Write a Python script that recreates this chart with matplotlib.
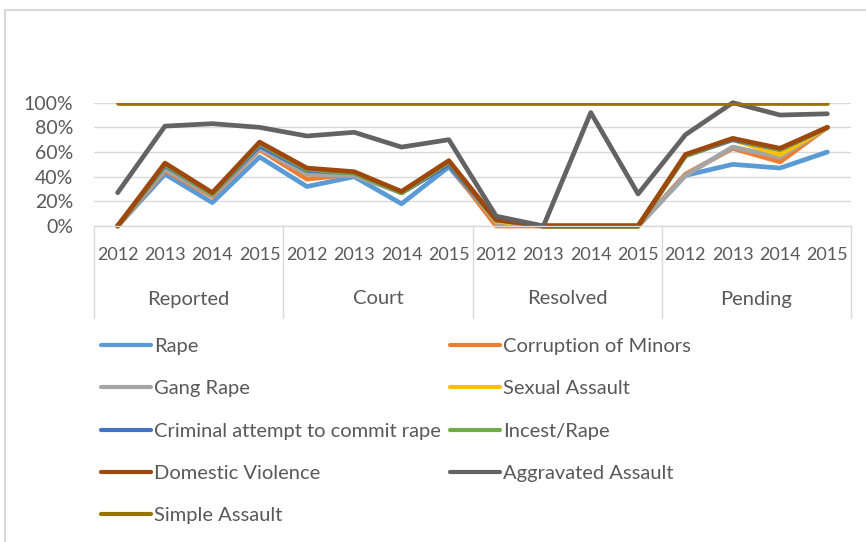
import matplotlib
matplotlib.use("Agg")
import matplotlib.pyplot as plt
from matplotlib.transforms import blended_transform_factory
from matplotlib.lines import Line2D

plt.rcParams['font.family'] = ['Lato', 'DejaVu Sans']

groups = ["Reported", "Court", "Resolved", "Pending"]
years = ["2012", "2013", "2014", "2015"]

series_names = ["Rape", "Corruption of Minors", "Gang Rape", "Sexual Assault",
                "Criminal attempt to commit rape", "Incest/Rape",
                "Domestic Violence", "Aggravated Assault", "Simple Assault"]
colors = ["#5B9BD5", "#ED7D31", "#A5A5A5", "#FFC000", "#4472C4", "#70AD47",
          "#9E480E", "#636363", "#997300"]

rape        = [0, 0.42, 0.19, 0.56, 0.32, 0.40, 0.18, 0.48, 0.03, 0, 0, 0, 0.41, 0.50, 0.47, 0.60]
corruption  = [0, 0.45, 0.24, 0.62, 0.38, 0.42, 0.27, 0.50, 0.00, 0, 0, 0, 0.42, 0.63, 0.52, 0.80]
gang_rape   = [0, 0.46, 0.25, 0.63, 0.42, 0.41, 0.27, 0.50, 0.03, 0, 0, 0, 0.41, 0.64, 0.56, 0.80]
sexual      = [0, 0.49, 0.26, 0.66, 0.45, 0.43, 0.27, 0.51, 0.04, 0, 0, 0, 0.57, 0.70, 0.58, 0.80]
criminal    = [0, 0.49, 0.26, 0.65, 0.45, 0.43, 0.27, 0.50, 0.05, 0, 0, 0, 0.57, 0.70, 0.62, 0.80]
incest      = [0, 0.50, 0.26, 0.67, 0.46, 0.43, 0.27, 0.52, 0.05, 0, 0, 0, 0.57, 0.71, 0.62, 0.80]
domestic    = [0, 0.51, 0.27, 0.68, 0.47, 0.44, 0.28, 0.53, 0.05, 0, 0, 0, 0.58, 0.71, 0.63, 0.80]
aggravated  = [0.27, 0.81, 0.83, 0.80, 0.73, 0.76, 0.64, 0.70, 0.08, 0, 0.92, 0.26, 0.74, 1.00, 0.90, 0.91]
simple      = [1.0] * 16

data = [rape, corruption, gang_rape, sexual, criminal, incest, domestic, aggravated, simple]

W, H = 866, 542
fig = plt.figure(figsize=(W / 100, H / 100), dpi=100)
fig.patch.set_facecolor("white")

# chart border (top and left visible)
fig.add_artist(Line2D([5 / W, 1.0], [1 - 10 / H, 1 - 10 / H], color="#D9D9D9", lw=1.5))
fig.add_artist(Line2D([5 / W, 5 / W], [0, 1 - 10 / H], color="#D9D9D9", lw=1.5))

left, right = 94 / W, 851 / W
bottom, top = 1 - 226 / H, 1 - 102.7 / H
ax = fig.add_axes([left, bottom, right - left, top - bottom])

n = len(groups) * len(years)
x = list(range(n))
handles = []
for name, col, vals in zip(series_names, colors, data):
    is_top = all(v >= 1.0 for v in vals)
    h, = ax.plot(x, vals, color=col, lw=3.4, label=name, clip_on=is_top,
                 solid_joinstyle="round", solid_capstyle="round")
    handles.append(h)

ax.set_xlim(-0.5, n - 0.5)
ax.set_ylim(0, 1)
ax.set_yticks([0, 0.2, 0.4, 0.6, 0.8, 1.0])
ax.set_yticklabels(["0%", "20%", "40%", "60%", "80%", "100%"])
ax.tick_params(axis="y", length=0, pad=15, labelsize=14, labelcolor="#595959")
ax.set_xticks([])
ax.grid(axis="y", color="#D9D9D9", lw=1)
ax.set_axisbelow(True)
for s in ["left", "right", "top"]:
    ax.spines[s].set_visible(False)
ax.spines["bottom"].set_color("#D9D9D9")
ax.spines["bottom"].set_linewidth(1)

tr = blended_transform_factory(ax.transData, fig.transFigure)
for gi, g in enumerate(groups):
    for yi, yr in enumerate(years):
        ax.text(gi * 4 + yi, 1 - 255 / H, yr, transform=tr, ha="center", va="center",
                fontsize=13, color="#595959")
    ax.text(gi * 4 + 1.5, 1 - 299 / H, g, transform=tr, ha="center", va="center",
            fontsize=14.5, color="#595959")
for b in range(len(groups) + 1):
    xb = b * 4 - 0.5
    ax.add_line(Line2D([xb, xb], [1 - 226 / H, 1 - 318 / H], transform=tr,
                       color="#D9D9D9", lw=1, clip_on=False))

order = [0, 2, 4, 6, 8, 1, 3, 5, 7]
leg = fig.legend([handles[i] for i in order], [series_names[i] for i in order],
                 ncol=2, loc="upper left", bbox_to_anchor=(83 / W, 1 - 320 / H),
                 frameon=False, fontsize=14.5, handlelength=2.48, handletextpad=0.15,
                 labelspacing=1.25, columnspacing=0.45, labelcolor="#595959")
for lh in leg.get_lines():
    lh.set_linewidth(3)

fig.savefig("out.png", dpi=100)
